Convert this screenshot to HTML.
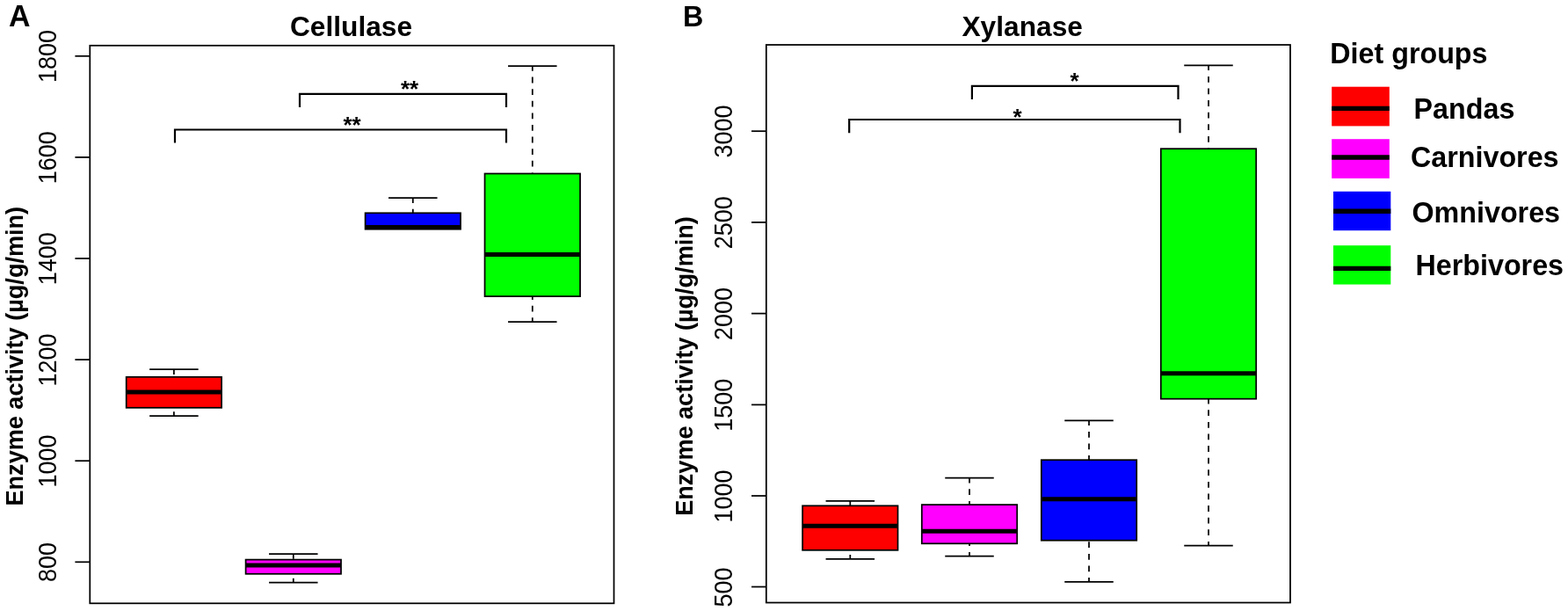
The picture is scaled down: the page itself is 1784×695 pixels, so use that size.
<!DOCTYPE html>
<html lang="en">
<head>
<meta charset="utf-8">
<title>Enzyme activity by diet group</title>
<style>
html,body{margin:0;padding:0;background:#fff;}
body{width:1784px;height:695px;overflow:hidden;}
svg{display:block;font-family:'Liberation Sans', Arial, Helvetica, sans-serif;fill:#000;}
</style>
</head>
<body>
<svg width="1784" height="695" viewBox="0 0 1784 695">
<rect x="0" y="0" width="1784" height="695" fill="#fff"/>
<text transform="translate(9.9 30.2) scale(0.98 1)" font-size="34.6" font-weight="bold" text-anchor="start">A</text>
<text transform="translate(399.5 40.9) scale(0.991 1)" font-size="32.0" font-weight="bold" text-anchor="middle">Cellulase</text>
<rect x="102.3" y="51.8" width="596.2" height="634.5" fill="none" stroke="#000" stroke-width="1.75"/>
<line x1="85.4" y1="63.8" x2="102.3" y2="63.8" stroke="#000" stroke-width="1.75" stroke-linecap="butt"/>
<text transform="translate(63.8 64.1) rotate(-90) scale(0.931 1)" font-size="29" text-anchor="middle">1800</text>
<line x1="85.4" y1="178.9" x2="102.3" y2="178.9" stroke="#000" stroke-width="1.75" stroke-linecap="butt"/>
<text transform="translate(63.8 179.2) rotate(-90) scale(0.931 1)" font-size="29" text-anchor="middle">1600</text>
<line x1="85.4" y1="294" x2="102.3" y2="294" stroke="#000" stroke-width="1.75" stroke-linecap="butt"/>
<text transform="translate(63.8 294.3) rotate(-90) scale(0.931 1)" font-size="29" text-anchor="middle">1400</text>
<line x1="85.4" y1="409.1" x2="102.3" y2="409.1" stroke="#000" stroke-width="1.75" stroke-linecap="butt"/>
<text transform="translate(63.8 409.4) rotate(-90) scale(0.931 1)" font-size="29" text-anchor="middle">1200</text>
<line x1="85.4" y1="524.2" x2="102.3" y2="524.2" stroke="#000" stroke-width="1.75" stroke-linecap="butt"/>
<text transform="translate(63.8 524.5) rotate(-90) scale(0.931 1)" font-size="29" text-anchor="middle">1000</text>
<line x1="85.4" y1="639.3" x2="102.3" y2="639.3" stroke="#000" stroke-width="1.75" stroke-linecap="butt"/>
<text transform="translate(63.8 639.6) rotate(-90) scale(0.931 1)" font-size="29" text-anchor="middle">800</text>
<text transform="translate(26.2 405.2) rotate(-90) scale(0.971 1)" font-size="27.9" font-weight="bold" text-anchor="middle">Enzyme activity (µg/g/min)</text>
<line x1="197.9" y1="420.1" x2="197.9" y2="428.8" stroke="#000" stroke-width="1.75" stroke-linecap="butt" stroke-dasharray="6.8 6.8" stroke-dashoffset="1"/>
<line x1="170.15" y1="420.1" x2="225.65" y2="420.1" stroke="#000" stroke-width="1.75" stroke-linecap="butt"/>
<line x1="197.9" y1="473" x2="197.9" y2="463.8" stroke="#000" stroke-width="1.75" stroke-linecap="butt" stroke-dasharray="6.8 6.8" stroke-dashoffset="2"/>
<line x1="170.15" y1="473" x2="225.65" y2="473" stroke="#000" stroke-width="1.75" stroke-linecap="butt"/>
<rect x="143.7" y="428.8" width="108.4" height="35" fill="#ff0000" stroke="#000" stroke-width="1.75"/>
<line x1="143.7" y1="446" x2="252.1" y2="446" stroke="#000" stroke-width="5.0" stroke-linecap="butt"/>
<line x1="333.8" y1="630" x2="333.8" y2="636.6" stroke="#000" stroke-width="1.75" stroke-linecap="butt" stroke-dasharray="6.8 6.8" stroke-dashoffset="1"/>
<line x1="306.05" y1="630" x2="361.55" y2="630" stroke="#000" stroke-width="1.75" stroke-linecap="butt"/>
<line x1="333.8" y1="662.6" x2="333.8" y2="652.8" stroke="#000" stroke-width="1.75" stroke-linecap="butt" stroke-dasharray="6.8 6.8" stroke-dashoffset="2"/>
<line x1="306.05" y1="662.6" x2="361.55" y2="662.6" stroke="#000" stroke-width="1.75" stroke-linecap="butt"/>
<rect x="279.6" y="636.6" width="108.4" height="16.2" fill="#ff00ff" stroke="#000" stroke-width="1.75"/>
<line x1="279.6" y1="643" x2="388" y2="643" stroke="#000" stroke-width="5.0" stroke-linecap="butt"/>
<line x1="469.8" y1="225.1" x2="469.8" y2="242.3" stroke="#000" stroke-width="1.75" stroke-linecap="butt" stroke-dasharray="6.8 6.8" stroke-dashoffset="1"/>
<line x1="442.05" y1="225.1" x2="497.55" y2="225.1" stroke="#000" stroke-width="1.75" stroke-linecap="butt"/>
<rect x="415.6" y="242.3" width="108.4" height="18.4" fill="#0000ff" stroke="#000" stroke-width="1.75"/>
<line x1="415.6" y1="258.6" x2="524" y2="258.6" stroke="#000" stroke-width="5.0" stroke-linecap="butt"/>
<line x1="605.8" y1="75" x2="605.8" y2="197.5" stroke="#000" stroke-width="1.75" stroke-linecap="butt" stroke-dasharray="6.8 6.8" stroke-dashoffset="1"/>
<line x1="578.05" y1="75" x2="633.55" y2="75" stroke="#000" stroke-width="1.75" stroke-linecap="butt"/>
<line x1="605.8" y1="366.1" x2="605.8" y2="337.1" stroke="#000" stroke-width="1.75" stroke-linecap="butt" stroke-dasharray="6.8 6.8" stroke-dashoffset="2"/>
<line x1="578.05" y1="366.1" x2="633.55" y2="366.1" stroke="#000" stroke-width="1.75" stroke-linecap="butt"/>
<rect x="551.55" y="197.5" width="108.5" height="139.6" fill="#00ff00" stroke="#000" stroke-width="1.75"/>
<line x1="551.55" y1="289.4" x2="660.05" y2="289.4" stroke="#000" stroke-width="5.0" stroke-linecap="butt"/>
<polyline points="341,121.9 341,106.9 576,106.9 576,121.9" fill="none" stroke="#000" stroke-width="2.2"/>
<text transform="translate(466 110)" font-size="26" font-weight="bold" text-anchor="middle">**</text>
<polyline points="199,162.5 199,147.5 576,147.5 576,162.5" fill="none" stroke="#000" stroke-width="2.2"/>
<text transform="translate(400.5 150.5)" font-size="26" font-weight="bold" text-anchor="middle">**</text>
<text transform="translate(777.1 30.2) scale(0.95 1)" font-size="34" font-weight="bold" text-anchor="start">B</text>
<text transform="translate(1163.2 40.8) scale(0.991 1)" font-size="32.0" font-weight="bold" text-anchor="middle">Xylanase</text>
<rect x="871.8" y="51" width="596.2" height="634.5" fill="none" stroke="#000" stroke-width="1.75"/>
<line x1="855" y1="149.2" x2="871.8" y2="149.2" stroke="#000" stroke-width="1.75" stroke-linecap="butt"/>
<text transform="translate(833.4 149.6) rotate(-90) scale(0.931 1)" font-size="29" text-anchor="middle">3000</text>
<line x1="855" y1="252.9" x2="871.8" y2="252.9" stroke="#000" stroke-width="1.75" stroke-linecap="butt"/>
<text transform="translate(833.4 253.3) rotate(-90) scale(0.931 1)" font-size="29" text-anchor="middle">2500</text>
<line x1="855" y1="356.6" x2="871.8" y2="356.6" stroke="#000" stroke-width="1.75" stroke-linecap="butt"/>
<text transform="translate(833.4 357) rotate(-90) scale(0.931 1)" font-size="29" text-anchor="middle">2000</text>
<line x1="855" y1="460.4" x2="871.8" y2="460.4" stroke="#000" stroke-width="1.75" stroke-linecap="butt"/>
<text transform="translate(833.4 460.8) rotate(-90) scale(0.931 1)" font-size="29" text-anchor="middle">1500</text>
<line x1="855" y1="564" x2="871.8" y2="564" stroke="#000" stroke-width="1.75" stroke-linecap="butt"/>
<text transform="translate(833.4 564.4) rotate(-90) scale(0.931 1)" font-size="29" text-anchor="middle">1000</text>
<line x1="855" y1="667.5" x2="871.8" y2="667.5" stroke="#000" stroke-width="1.75" stroke-linecap="butt"/>
<text transform="translate(833.4 667.9) rotate(-90) scale(0.931 1)" font-size="29" text-anchor="middle">500</text>
<text transform="translate(787.7 416.5) rotate(-90) scale(0.971 1)" font-size="27.9" font-weight="bold" text-anchor="middle">Enzyme activity (µg/g/min)</text>
<line x1="967.3" y1="569.8" x2="967.3" y2="575.3" stroke="#000" stroke-width="1.75" stroke-linecap="butt" stroke-dasharray="6.8 6.8" stroke-dashoffset="1"/>
<line x1="939.55" y1="569.8" x2="995.05" y2="569.8" stroke="#000" stroke-width="1.75" stroke-linecap="butt"/>
<line x1="967.3" y1="635.8" x2="967.3" y2="625.8" stroke="#000" stroke-width="1.75" stroke-linecap="butt" stroke-dasharray="6.8 6.8" stroke-dashoffset="2"/>
<line x1="939.55" y1="635.8" x2="995.05" y2="635.8" stroke="#000" stroke-width="1.75" stroke-linecap="butt"/>
<rect x="913.1" y="575.3" width="108.4" height="50.5" fill="#ff0000" stroke="#000" stroke-width="1.75"/>
<line x1="913.1" y1="598.3" x2="1021.5" y2="598.3" stroke="#000" stroke-width="5.0" stroke-linecap="butt"/>
<line x1="1103" y1="543.7" x2="1103" y2="574.1" stroke="#000" stroke-width="1.75" stroke-linecap="butt" stroke-dasharray="6.8 6.8" stroke-dashoffset="1"/>
<line x1="1075.25" y1="543.7" x2="1130.75" y2="543.7" stroke="#000" stroke-width="1.75" stroke-linecap="butt"/>
<line x1="1103" y1="632.7" x2="1103" y2="618.3" stroke="#000" stroke-width="1.75" stroke-linecap="butt" stroke-dasharray="6.8 6.8" stroke-dashoffset="2"/>
<line x1="1075.25" y1="632.7" x2="1130.75" y2="632.7" stroke="#000" stroke-width="1.75" stroke-linecap="butt"/>
<rect x="1048.8" y="574.1" width="108.4" height="44.2" fill="#ff00ff" stroke="#000" stroke-width="1.75"/>
<line x1="1048.8" y1="604.2" x2="1157.2" y2="604.2" stroke="#000" stroke-width="5.0" stroke-linecap="butt"/>
<line x1="1239" y1="478.3" x2="1239" y2="523.2" stroke="#000" stroke-width="1.75" stroke-linecap="butt" stroke-dasharray="6.8 6.8" stroke-dashoffset="1"/>
<line x1="1211.25" y1="478.3" x2="1266.75" y2="478.3" stroke="#000" stroke-width="1.75" stroke-linecap="butt"/>
<line x1="1239" y1="661.9" x2="1239" y2="614.7" stroke="#000" stroke-width="1.75" stroke-linecap="butt" stroke-dasharray="6.8 6.8" stroke-dashoffset="2"/>
<line x1="1211.25" y1="661.9" x2="1266.75" y2="661.9" stroke="#000" stroke-width="1.75" stroke-linecap="butt"/>
<rect x="1184.8" y="523.2" width="108.4" height="91.5" fill="#0000ff" stroke="#000" stroke-width="1.75"/>
<line x1="1184.8" y1="567.8" x2="1293.2" y2="567.8" stroke="#000" stroke-width="5.0" stroke-linecap="butt"/>
<line x1="1375" y1="74.3" x2="1375" y2="169.2" stroke="#000" stroke-width="1.75" stroke-linecap="butt" stroke-dasharray="6.8 6.8" stroke-dashoffset="1"/>
<line x1="1347.25" y1="74.3" x2="1402.75" y2="74.3" stroke="#000" stroke-width="1.75" stroke-linecap="butt"/>
<line x1="1375" y1="620.7" x2="1375" y2="453.7" stroke="#000" stroke-width="1.75" stroke-linecap="butt" stroke-dasharray="6.8 6.8" stroke-dashoffset="2"/>
<line x1="1347.25" y1="620.7" x2="1402.75" y2="620.7" stroke="#000" stroke-width="1.75" stroke-linecap="butt"/>
<rect x="1320.8" y="169.2" width="108.4" height="284.5" fill="#00ff00" stroke="#000" stroke-width="1.75"/>
<line x1="1320.8" y1="424.7" x2="1429.2" y2="424.7" stroke="#000" stroke-width="5.0" stroke-linecap="butt"/>
<polyline points="1105.9,112.9 1105.9,97.9 1340.5,97.9 1340.5,112.9" fill="none" stroke="#000" stroke-width="2.2"/>
<text transform="translate(1222.6 101.2)" font-size="26" font-weight="bold" text-anchor="middle">*</text>
<polyline points="966.2,151.2 966.2,136 1342.5,136 1342.5,151.2" fill="none" stroke="#000" stroke-width="2.2"/>
<text transform="translate(1157.5 141.7)" font-size="26" font-weight="bold" text-anchor="middle">*</text>
<text transform="translate(1513.3 71.5) scale(0.99 1)" font-size="32.6" font-weight="bold" text-anchor="start">Diet groups</text>
<rect x="1515.2" y="98.7" width="65.6" height="44.7" fill="#ff0000"/>
<line x1="1515.2" y1="123.4" x2="1580.8" y2="123.4" stroke="#000" stroke-width="5.4" stroke-linecap="butt"/>
<rect x="1515.2" y="158.2" width="65.6" height="44.7" fill="#ff00ff"/>
<line x1="1515.2" y1="179.05" x2="1580.8" y2="179.05" stroke="#000" stroke-width="5.4" stroke-linecap="butt"/>
<rect x="1517" y="217.8" width="65.3" height="44.4" fill="#0000ff"/>
<line x1="1517" y1="240.3" x2="1582.3" y2="240.3" stroke="#000" stroke-width="5.4" stroke-linecap="butt"/>
<rect x="1517" y="279.2" width="65.3" height="44.35" fill="#00ff00"/>
<line x1="1517" y1="305.35" x2="1582.3" y2="305.35" stroke="#000" stroke-width="5.4" stroke-linecap="butt"/>
<text transform="translate(1608.6 134.7) scale(0.99 1)" font-size="32.6" font-weight="bold" text-anchor="start">Pandas</text>
<text transform="translate(1605 189.7) scale(0.99 1)" font-size="32.6" font-weight="bold" text-anchor="start">Carnivores</text>
<text transform="translate(1606.5 253) scale(0.99 1)" font-size="32.6" font-weight="bold" text-anchor="start">Omnivores</text>
<text transform="translate(1610.5 312.7) scale(0.99 1)" font-size="32.6" font-weight="bold" text-anchor="start">Herbivores</text>
</svg>
</body>
</html>
